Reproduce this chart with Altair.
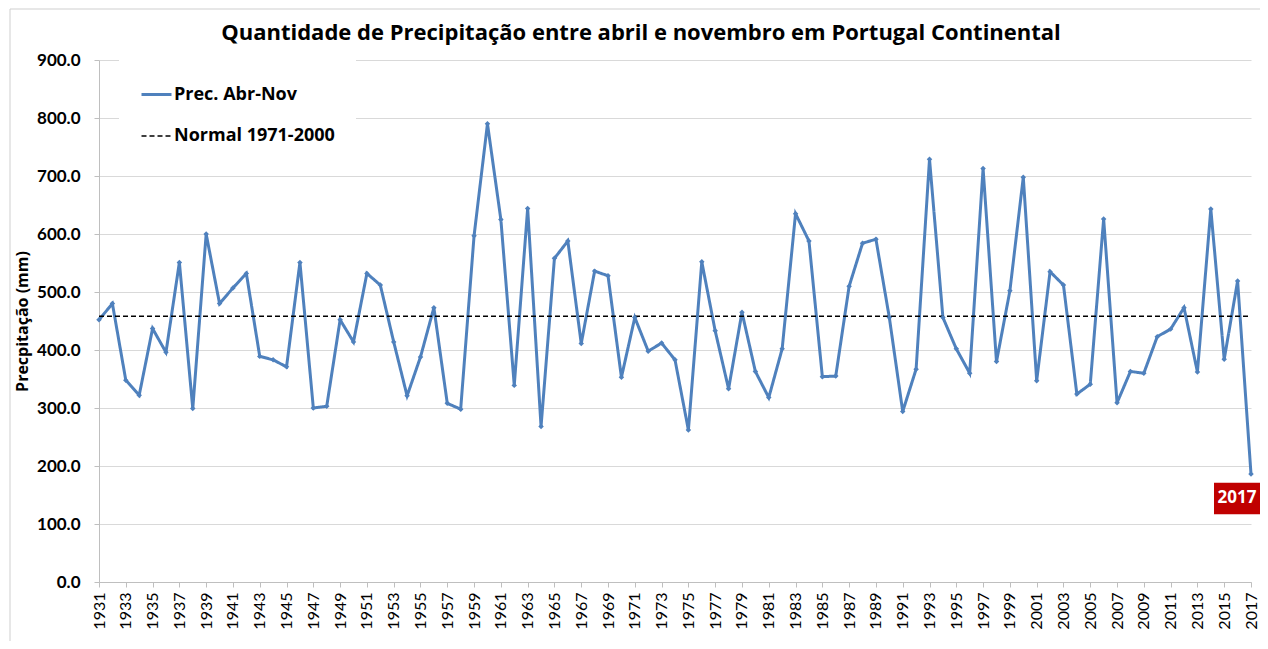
import altair as alt
import pandas as pd

YEARS = list(range(1931, 2018))
PREC = [452, 480, 348, 322, 437, 396, 551, 299, 600, 480,
        507, 532, 389, 383, 371, 551, 300, 303, 452, 414,
        532, 512, 414, 321, 388, 473, 308, 298, 597, 790,
        625, 339, 644, 268, 558, 588, 411, 536, 528, 353,
        456, 398, 412, 383, 262, 552, 433, 333, 465, 363,
        318, 402, 635, 588, 354, 355, 510, 584, 591, 456,
        294, 367, 729, 456, 402, 360, 713, 380, 502, 698,
        347, 535, 512, 324, 341, 626, 309, 363, 360, 423,
        436, 473, 362, 643, 384, 519, 186]
NORMAL = 458
SERIES = ["Prec. Abr-Nov", "Normal 1971-2000"]
X_TICKS = YEARS[::2]
Y_TICKS = [0, 100, 200, 300, 400, 500, 600, 700, 800, 900]
TITLE = ["Quantidade de Precipitação entre abril e novembro em Portugal Continental"]
Y_TITLE = "Precpitação (mm)"
ANNOT_YEAR = [2017]
ANNOT_LABEL = ["2017"]
ANNOT_TOP = [171]
ANNOT_BOTTOM = [117]
ANNOT_MID = [144]

BLUE = "#4F81BD"
FONT = "Lato"
WIDE_FONT = "Open Sans"

prec_df = pd.DataFrame({"ano": YEARS, "valor": PREC, "serie": SERIES[0]})
norm_df = pd.DataFrame({"ano": YEARS, "valor": [NORMAL] * len(YEARS), "serie": SERIES[1]})
df = pd.concat([prec_df, norm_df], ignore_index=True)

ann = pd.DataFrame({"ano": ANNOT_YEAR, "label": ANNOT_LABEL, "top": ANNOT_TOP,
                    "bottom": ANNOT_BOTTOM, "mid": ANNOT_MID})
title_df = pd.DataFrame({"titulo": TITLE})

x_scale = alt.Scale(type="point", domain=YEARS, padding=0)
x_enc = alt.X("ano:O", scale=x_scale,
              axis=alt.Axis(values=X_TICKS, labelAngle=-90, labelFontSize=16,
                            labelFont=FONT, labelColor="black", labelPadding=5,
                            labelAlign="right", labelBaseline="middle",
                            tickSize=5, tickColor="#BFBFBF", domainColor="#BFBFBF",
                            grid=False, title=None, labelOverlap=False))
y_enc = alt.Y("valor:Q",
              scale=alt.Scale(domain=[0, 900], nice=False),
              axis=alt.Axis(values=Y_TICKS, format=".1f", labelFontSize=17, labelFont=FONT,
                            labelFontWeight="bold", labelColor="black", labelPadding=14,
                            tickSize=5, tickColor="#BFBFBF", domainColor="#BFBFBF",
                            gridColor="#D9D9D9", title=Y_TITLE, titleFont=WIDE_FONT,
                            titleFontSize=16, titleFontWeight="bold", titleColor="black",
                            titlePadding=6))

legend = alt.Legend(orient="none", legendX=20, legendY=-3, title=None, symbolType="stroke",
                    symbolSize=900, labelFontSize=18, labelFont=WIDE_FONT, labelFontWeight="bold",
                    labelColor="black", rowPadding=16, padding=21, fillColor="white",
                    labelOffset=1, labelLimit=400)

lines = alt.Chart(df).mark_line().encode(
    x=x_enc,
    y=y_enc,
    color=alt.Color("serie:N", scale=alt.Scale(domain=SERIES, range=[BLUE, "black"]), legend=legend),
    strokeDash=alt.StrokeDash("serie:N", scale=alt.Scale(domain=SERIES, range=[[1, 0], [5, 3]]), legend=legend),
    strokeWidth=alt.StrokeWidth("serie:N", scale=alt.Scale(domain=SERIES, range=[3, 1.5]), legend=legend),
    detail="serie:N",
)

points = alt.Chart(prec_df).mark_point(shape="diamond", filled=True, size=30, color=BLUE, opacity=1).encode(
    x=alt.X("ano:O", scale=x_scale), y="valor:Q"
)

box = alt.Chart(ann).mark_bar(width=46, xOffset=-14, color="#C00000").encode(
    x=alt.X("ano:O", scale=x_scale), y="top:Q", y2="bottom:Q"
)
box_text = alt.Chart(ann).mark_text(dx=-14, color="white", font=WIDE_FONT, fontWeight="bold",
                                    fontSize=17, baseline="middle", align="center").encode(
    x=alt.X("ano:O", scale=x_scale), y="mid:Q", text="label:N"
)

title_text = alt.Chart(title_df).mark_text(font=WIDE_FONT, fontSize=22, fontWeight="bold", color="black",
                                           align="center", baseline="alphabetic").encode(
    x=alt.value(542), y=alt.value(-20), text="titulo:N"
)

border = alt.Chart(ann).mark_rect(fillOpacity=0, stroke="#CFCFCF", strokeWidth=1).encode(
    x=alt.value(-89), x2=alt.value(1400), y=alt.value(-51), y2=alt.value(800)
)

chart = alt.layer(border, title_text, lines, points, box, box_text).properties(
    width=1152, height=522,
    autosize=alt.AutoSizeParams(type="none"),
    padding={"left": 91, "top": 52, "right": 9, "bottom": 59},
).configure_view(stroke=None)

chart.save("out.html", embed_options={"renderer": "svg", "actions": False})
